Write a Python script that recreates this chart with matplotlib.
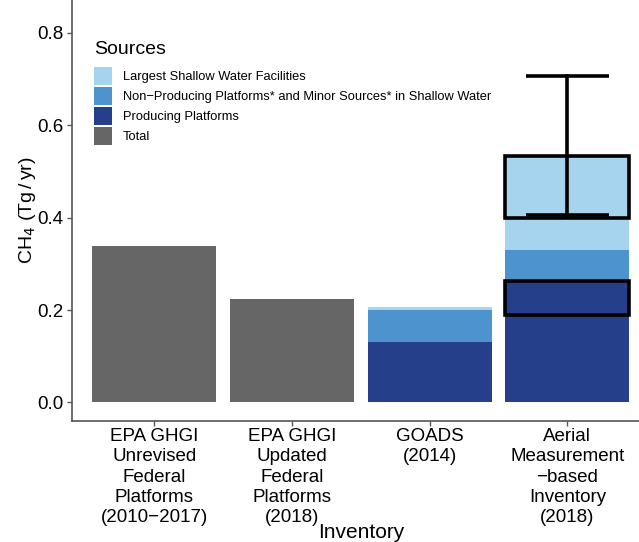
import matplotlib
matplotlib.use("Agg")
import matplotlib.pyplot as plt
from matplotlib.patches import Patch

plt.rcParams['font.family'] = ['Liberation Sans', 'DejaVu Sans']

categories = [
    "EPA GHGI\nUnrevised\nFederal\nPlatforms\n(2010\u22122017)",
    "EPA GHGI\nUpdated\nFederal\nPlatforms\n(2018)",
    "GOADS\n(2014)",
    "Aerial\nMeasurement\n\u2212based\nInventory\n(2018)",
]

# Stacked components (Tg/yr); None where a source is not broken out
total = [0.339, 0.223, None, None]
producing = [None, None, 0.131, 0.262]
nonproducing = [None, None, 0.069, 0.067]
largest_shallow = [None, None, 0.006, 0.068]

# Uncertainty ranges for the aerial inventory
producing_range = (0.190, 0.262)
total_range = (0.399, 0.533)
total_whisker = (0.405, 0.707)

legend_labels = [
    "Largest Shallow Water Facilities",
    "Non\u2212Producing Platforms* and Minor Sources* in Shallow Water",
    "Producing Platforms",
    "Total",
]

c_light = "#A6D4EE"
c_mid = "#4D93CE"
c_dark = "#253F8A"
c_grey = "#666666"

fig = plt.figure(figsize=(6.39, 5.42), dpi=100)
W, H = 639, 542
left, right, bottom, top = 71.5, 650, 121.3, 542
ax = fig.add_axes([left / W, bottom / H, (right - left) / W, (top - bottom) / H])

x = [1, 2, 3, 4]
width = 0.9

for xi, t in zip(x, total):
    if t is not None:
        ax.bar(xi, t, width=width, color=c_grey)

for xi, p, n, l in zip(x, producing, nonproducing, largest_shallow):
    if p is None:
        continue
    ax.bar(xi, p, width=width, color=c_dark)
    ax.bar(xi, n, width=width, bottom=p, color=c_mid)
    ax.bar(xi, l, width=width, bottom=p + n, color=c_light)

# Range boxes for the aerial inventory
xa = 4
for lo, hi, fill in [(producing_range[0], producing_range[1], c_dark),
                     (total_range[0], total_range[1], c_light)]:
    ax.bar(xa, hi - lo, width=width, bottom=lo, color=fill,
           edgecolor="black", linewidth=2.6, zorder=3)

# Whisker
ax.plot([xa, xa], [total_whisker[0], total_whisker[1]], color="black", lw=2.6, zorder=4)
cap = 0.3
for yv in total_whisker:
    ax.plot([xa - cap, xa + cap], [yv, yv], color="black", lw=2.6, zorder=4,
            solid_capstyle="butt")

ax.set_xlim(0.4, 4.6)
ax.set_ylim(-0.0396, 0.871)
ax.set_yticks([0.0, 0.2, 0.4, 0.6, 0.8])
ax.set_yticklabels(["0.0", "0.2", "0.4", "0.6", "0.8"])
ax.set_xticks(x)
ax.set_xticklabels(categories, fontsize=13.5, linespacing=1.24)

for s in ["top", "right"]:
    ax.spines[s].set_visible(False)
for s in ["left", "bottom"]:
    ax.spines[s].set_color("#555555")
    ax.spines[s].set_linewidth(1.2)
ax.tick_params(axis="both", colors="#555555", length=3.5, width=1.0)
ax.tick_params(axis="y", labelsize=13.5, labelcolor="black", pad=2)
ax.tick_params(axis="x", labelcolor="black", pad=2)

ax.set_ylabel(r"CH$_4$ (Tg$\,$/$\,$yr)", fontsize=14, labelpad=-0.5)
ax.set_xlabel("Inventory", fontsize=15, labelpad=-2)

handles = [Patch(facecolor=c, edgecolor="none") for c in [c_light, c_mid, c_dark, c_grey]]
leg = ax.legend(handles, legend_labels, title="Sources", loc="upper left",
                bbox_to_anchor=((94 - left) / (right - left), (H - 41 - bottom) / (top - bottom)),
                frameon=False, fontsize=9.3, title_fontsize=14,
                handlelength=1.4, handleheight=1.77, labelspacing=0.155,
                handletextpad=0.85, borderaxespad=0, borderpad=0)
leg._legend_box.align = "left"
leg._legend_box.sep = 6.5

fig.savefig("out.png", dpi=100)
